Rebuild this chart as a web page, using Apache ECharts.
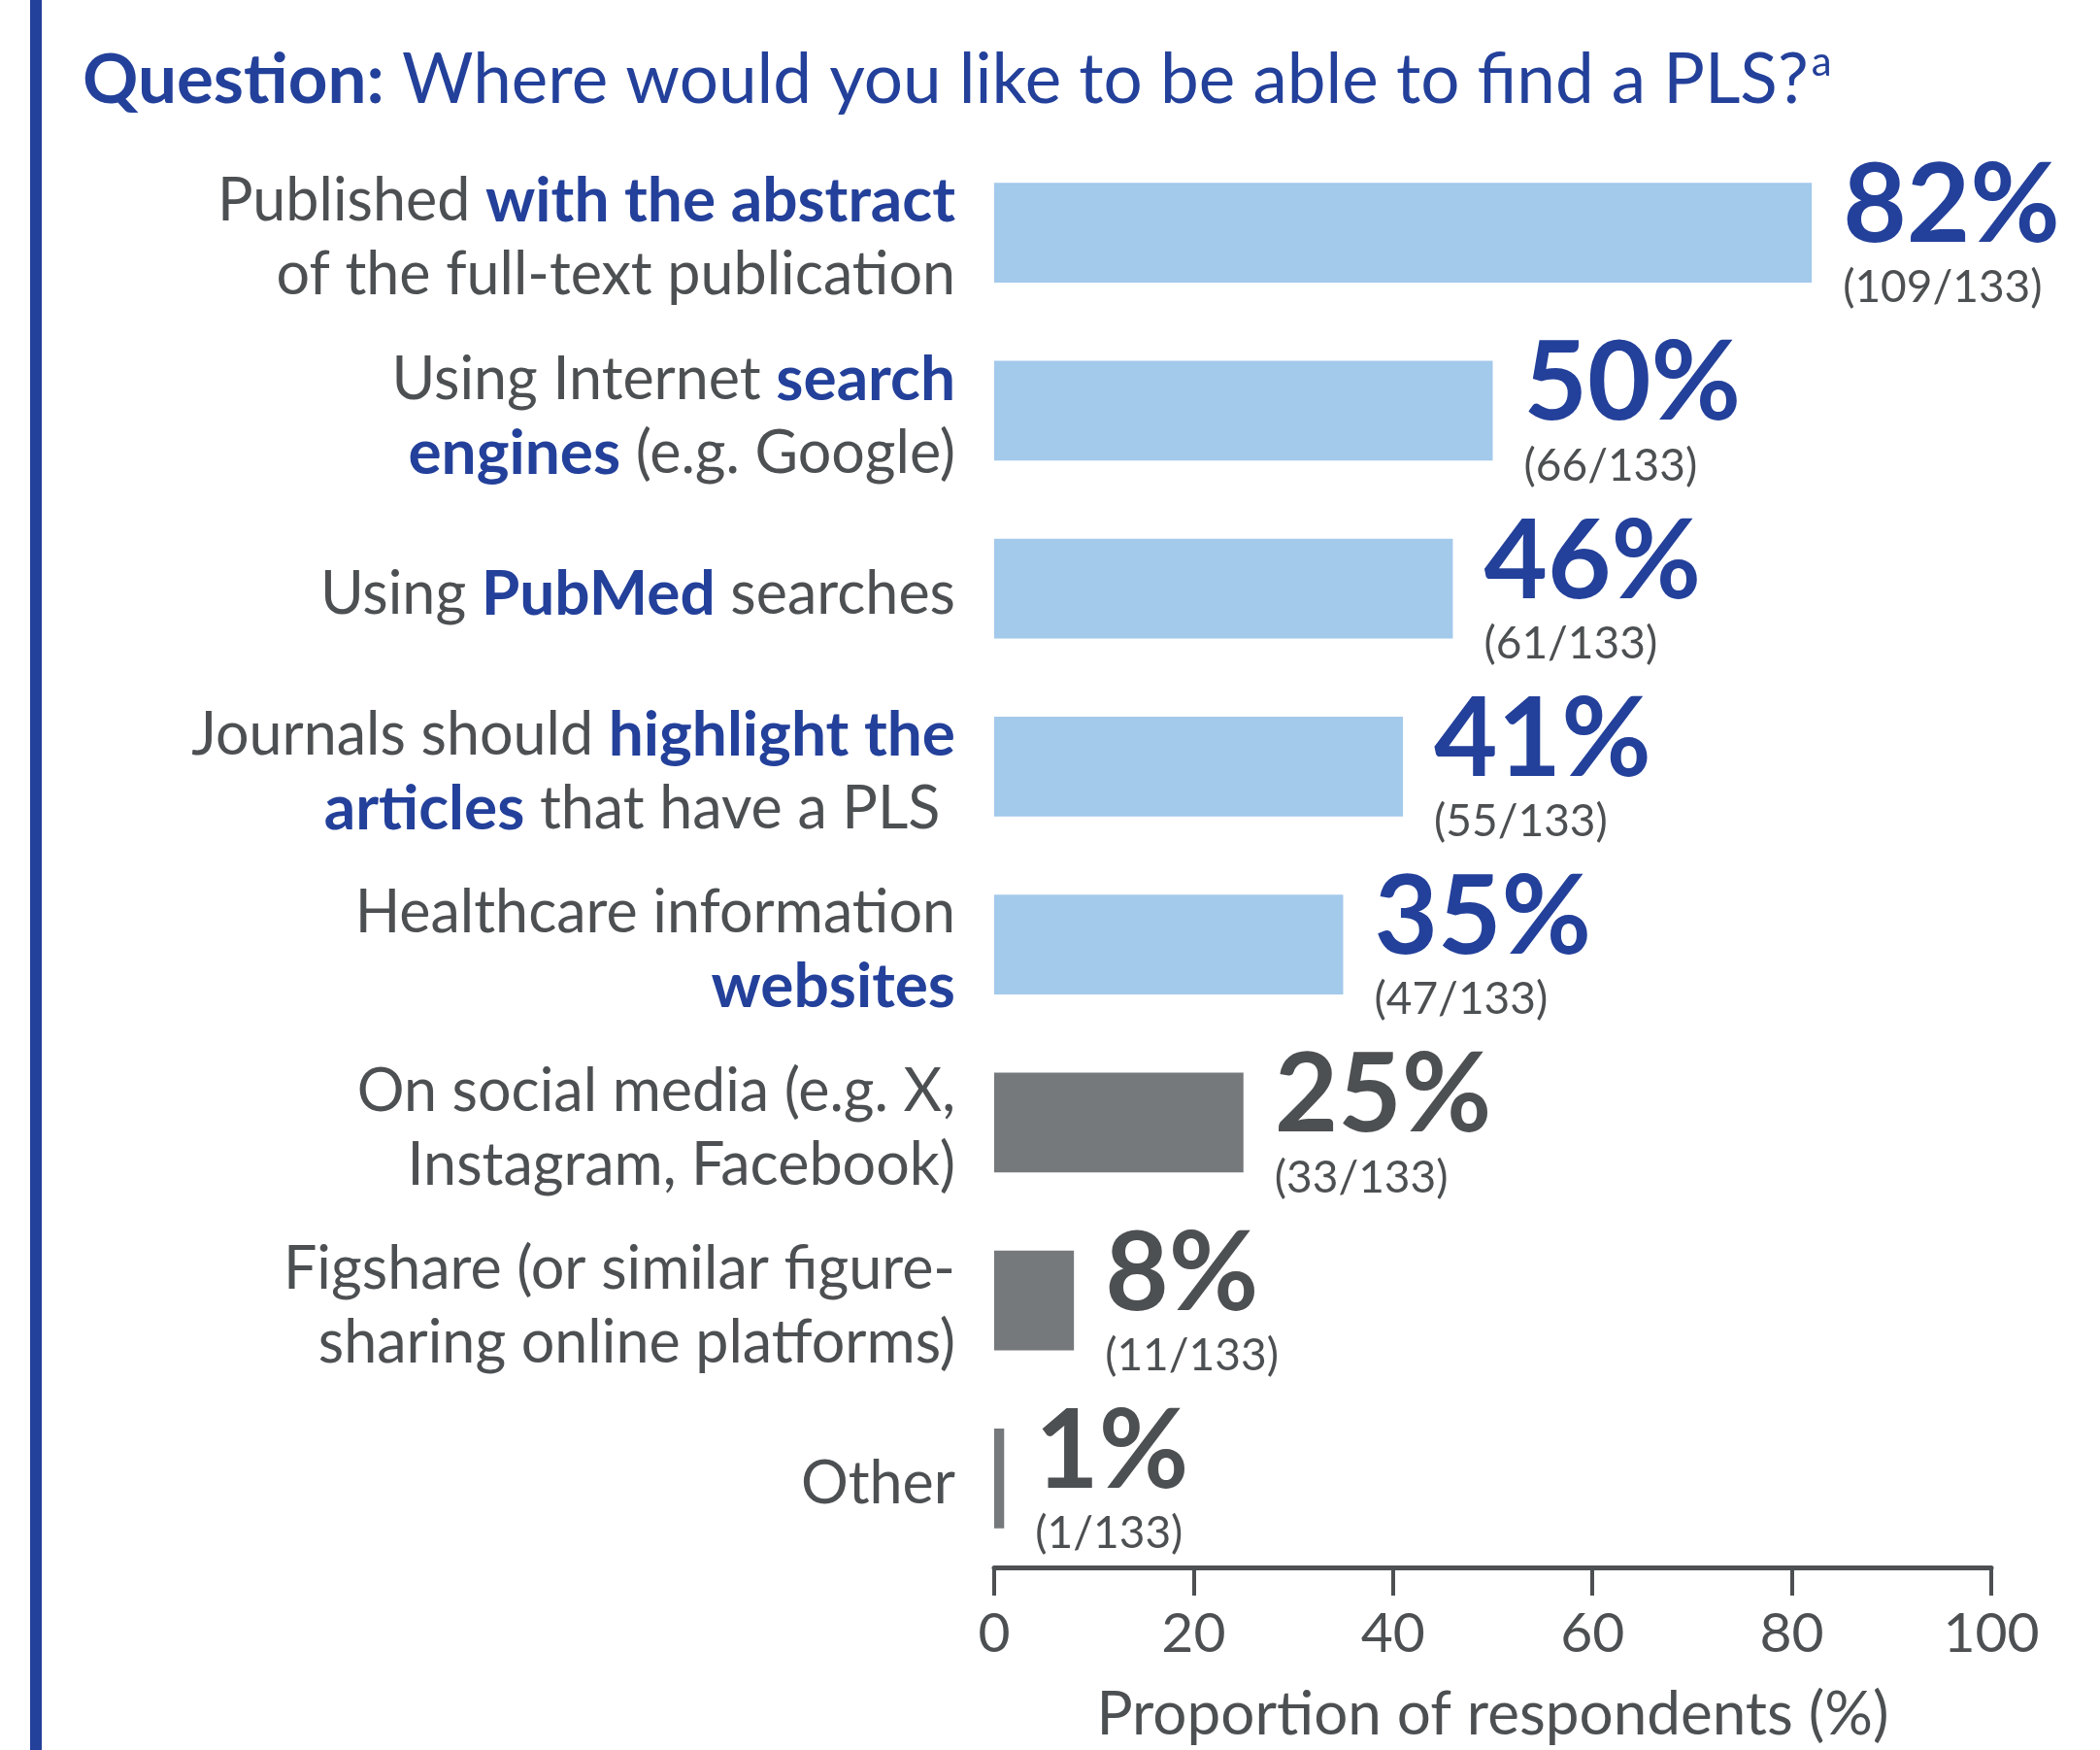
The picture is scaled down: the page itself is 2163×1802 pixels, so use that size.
<!DOCTYPE html>
<html>
<head>
<meta charset="utf-8">
<script src="https://cdn.jsdelivr.net/npm/echarts@6/dist/echarts.min.js"></script>
<style>
html, body { margin: 0; padding: 0; background: #ffffff; }
#chart { width: 2163px; height: 1802px; }
</style>
</head>
<body>
<div id="chart"></div>
<script>
// ---- Data ----
// Text between ** ** is drawn bold/blue; \n breaks a line.
const categories = [
  'Published **with the abstract**\nof the full-text publication',
  'Using Internet **search**\n**engines** (e.g. Google)',
  'Using **PubMed** searches',
  'Journals should **highlight the**\n**articles** that have a PLS ',
  'Healthcare information\n**websites**',
  'On social media (e.g. X,\nInstagram, Facebook)',
  'Figshare (or similar figure-\nsharing online platforms)',
  'Other'
];
const percentValues = [82, 50, 46, 41, 35, 25, 8, 1];
const respondentCounts = [109, 66, 61, 55, 47, 33, 11, 1];
const totalRespondents = 133;
const xTickValues = [0, 20, 40, 60, 80, 100];
const highlightedCount = 5; // first five options drawn in blue

const titleBold = 'Question:';
const titleText = 'Where would you like to be able to find a PLS?';
const titleSup = 'a';
const xAxisTitle = 'Proportion of respondents (%)';

// ---- Styles ----
const FONT = 'Lato, "Open Sans", "Noto Sans", sans-serif';
const BLUE = '#23409A';
const GRAY_TEXT = '#4D5052';
const BAR_BLUE = '#A3C9EB';
const BAR_GRAY = '#76797C';

function richCategory(label) {
  return label.split('\n').map(function (line) {
    const parts = line.split('**');
    let out = '';
    parts.forEach(function (p, i) {
      if (!p) return;
      out += '{' + (i % 2 === 1 ? 'b' : 'r') + '|' + p + '}';
    });
    return out;
  }).join('\n');
}

const chart = echarts.init(document.getElementById('chart'), null, { renderer: 'canvas' });

const option = {
  backgroundColor: '#ffffff',
  animation: false,
  title: {
    left: 85,
    top: 43,
    padding: 0,
    text: '{q|' + titleBold + '}{t| ' + titleText + '}{s|' + titleSup + '}',
    textStyle: {
      fontFamily: FONT,
      fontSize: 71,
      fontWeight: 'normal',
      color: BLUE,
      rich: {
        q: { fontFamily: FONT, fontSize: 71, fontWeight: 'bold', color: BLUE, lineHeight: 80 },
        t: { fontFamily: FONT, fontSize: 71, fontWeight: 'normal', color: BLUE, lineHeight: 80 },
        s: { fontFamily: FONT, fontSize: 42, fontWeight: 'normal', color: BLUE, lineHeight: 64, verticalAlign: 'top', padding: [0, 0, 0, 3] }
      }
    }
  },
  graphic: [
    { type: 'rect', left: 31, top: 0, shape: { width: 12, height: 1802 }, style: { fill: BLUE }, silent: true }
  ],
  grid: { left: 1024, right: 112, top: 148, bottom: 182, containLabel: false },
  xAxis: {
    type: 'value',
    min: xTickValues[0],
    max: xTickValues[xTickValues.length - 1],
    interval: xTickValues[1] - xTickValues[0],
    axisLine: { show: true, lineStyle: { color: GRAY_TEXT, width: 5 } },
    axisTick: { show: true, length: 29, lineStyle: { color: GRAY_TEXT, width: 4 } },
    splitLine: { show: false },
    axisLabel: { fontFamily: FONT, fontSize: 57, color: GRAY_TEXT, margin: 40 },
    name: xAxisTitle,
    nameLocation: 'middle',
    nameGap: 121,
    nameTextStyle: { fontFamily: FONT, fontSize: 62, color: GRAY_TEXT }
  },
  yAxis: {
    type: 'category',
    inverse: true,
    data: categories,
    axisLine: { show: false },
    axisTick: { show: false },
    splitLine: { show: false },
    axisLabel: {
      margin: 40,
      align: 'right',
      padding: [12, 0, 0, 0],
      formatter: function (v) { return richCategory(v); },
      rich: {
        r: { fontFamily: FONT, fontSize: 61, color: GRAY_TEXT, lineHeight: 76 },
        b: { fontFamily: FONT, fontSize: 64, fontWeight: 'bold', color: BLUE, lineHeight: 76 }
      }
    }
  },
  series: [{
    type: 'bar',
    barCategoryGap: '44%',
    data: percentValues.map(function (v, i) {
      return { value: v, itemStyle: { color: i < highlightedCount ? BAR_BLUE : BAR_GRAY } };
    }),
    label: {
      show: true,
      position: 'right',
      distance: 32,
      formatter: function (p) {
        const i = p.dataIndex;
        const big = i < highlightedCount ? 'bigB' : 'bigG';
        return '{' + big + '|' + percentValues[i] + '%}\n{small|(' + respondentCounts[i] + '/' + totalRespondents + ')}';
      },
      rich: {
        bigB: { fontFamily: FONT, fontSize: 113, fontWeight: 'bold', color: BLUE, lineHeight: 114 },
        bigG: { fontFamily: FONT, fontSize: 113, fontWeight: 'bold', color: GRAY_TEXT, lineHeight: 114 },
        small: { fontFamily: FONT, fontSize: 46, color: GRAY_TEXT, lineHeight: 54 }
      }
    }
  }]
};

chart.setOption(option);
</script>
</body>
</html>
